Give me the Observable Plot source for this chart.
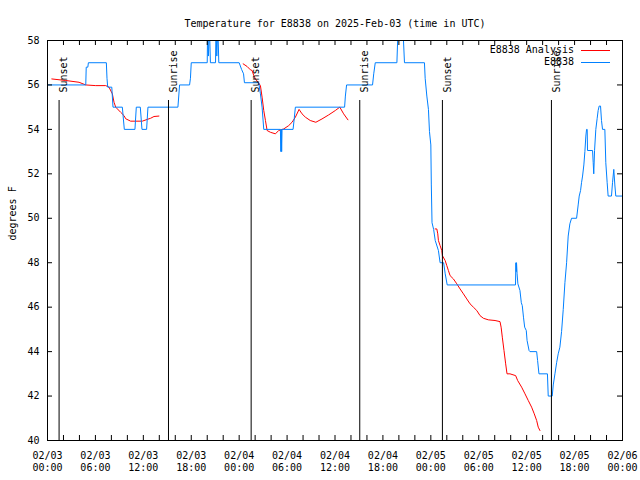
<!DOCTYPE html>
<html>
<head>
<meta charset="utf-8">
<script src="https://cdn.jsdelivr.net/npm/d3@7"></script>
<script src="https://cdn.jsdelivr.net/npm/@observablehq/plot@0.6"></script>
<style>
  body { margin: 0; background: #fff; }
  svg { display: block; }
</style>
</head>
<body>
<div id="chart"></div>
<script>
// ---- text ----
const title = "Temperature for E8838 on 2025-Feb-03 (time in UTC)";
const yLabel = "degrees F";
const seriesNames = ["E8838 Analysis", "E8838"];
const seriesColors = ["#ff0000", "#0080ff"];

// ---- axes (hours since 2025-02-03 00:00 UTC) ----
const xLabelHours = [0, 6, 12, 18, 24, 30, 36, 42, 48, 54, 60, 66, 72];
const xTickLabels = ["02/03\n00:00", "02/03\n06:00", "02/03\n12:00", "02/03\n18:00",
                     "02/04\n00:00", "02/04\n06:00", "02/04\n12:00", "02/04\n18:00",
                     "02/05\n00:00", "02/05\n06:00", "02/05\n12:00", "02/05\n18:00",
                     "02/06\n00:00"];
const xTickHours = [0,2,4,6,8,10,12,14,16,18,20,22,24,26,28,30,32,34,36,38,40,42,44,46,48,50,52,54,56,58,60,62,64,66,68,70,72];
const yTicks = [40, 42, 44, 46, 48, 50, 52, 54, 56, 58];

// ---- sun events ----
const sunHours = [1.45, 15.15, 25.5, 39.1, 49.45, 63.1];
const sunLabels = ["Sunset", "Sunrise", "Sunset", "Sunrise", "Sunset", "Sunrise"];

// ---- E8838 observations [hour, degF] ----
const obsPoints = [
  [0,56],[4.79,56],[4.85,56.8],[5.05,56.8],[5.12,57],[7.37,57],[7.45,56.3],[7.54,55.9],
  [8.05,55.9],[8.2,55],[9.37,55],[9.62,54],[10.95,54],[11.12,55],[11.62,55],[11.83,54],
  [12.41,54],[12.58,55],[16.33,55],[16.54,56],[17.79,56],[17.9,56.3],[18,57],[20,57],
  [20.05,58.6],[20.15,57.3],[20.28,58.6],[20.4,57],[21.04,57],[21.1,58.6],[21.2,57.3],
  [21.33,58.6],[21.45,57],[24.0,57],[24.3,56.7],[24.55,56.5],[24.66,56.1],[26.45,56.1],
  [26.66,55.6],[26.87,55],[27.08,54],[29.16,54],[29.22,53],[29.27,54],[29.32,53],[29.37,54],
  [30.75,54],[30.9,54.5],[31.04,55],[37.2,55],[37.3,55.5],[37.45,56],[40.7,56],[40.85,56.5],
  [41.04,57],[43.75,57],[43.9,58.6],[44.5,58.6],[44.7,57],[47.2,57],[47.29,56.3],[47.5,55.5],
  [47.7,54.9],[47.83,53.9],[48.0,53.3],[48.06,51.5],[48.15,49.8],[48.35,49.5],[48.55,49.0],
  [48.95,48.55],[49.16,48],[49.6,48],[49.8,47.5],[50.05,47],[58.6,47],[58.65,48],[58.7,47.6],
  [58.73,48],[58.8,47.5],[58.9,47.05],[59.16,46.75],[59.33,46.2],[59.45,46.07],[59.6,45.55],
  [59.75,45.1],[59.95,44.95],[60.05,44.5],[60.3,44.05],[60.41,44],[61.25,44],[61.37,43.6],
  [61.54,43],[62.6,43],[62.7,42],[63.2,42],[63.33,42.5],[63.54,43],[63.75,43.5],[63.95,43.9],
  [64.16,44.2],[64.37,44.9],[64.58,45.9],[64.79,47.1],[65.0,48],[65.2,49.2],[65.41,49.75],
  [65.62,50],[66.25,50],[66.45,50.6],[66.58,51],[66.75,51.25],[66.87,51.6],[67.0,51.9],
  [67.16,52.4],[67.29,53],[67.41,53.7],[67.5,54],[67.58,54],[67.62,53.05],[68.25,53.05],
  [68.33,52.5],[68.4,52],[68.5,53.05],[68.66,54],[68.83,54.5],[68.95,54.85],[69.08,55.05],
  [69.25,55.05],[69.37,54.4],[69.5,54],[69.79,54],[69.91,52.5],[70.08,51.6],[70.2,51],
  [70.62,51],[70.75,51.6],[70.91,52.2],[71.04,51.5],[71.16,51],[72,51]
];

// ---- E8838 Analysis [hour, degF], three night-time runs ----
const analysisRun1 = [
  [0.54,56.27],[2.29,56.2],[3.95,56.12],[4.79,56.0],[6.04,55.97],[7.29,55.97],[7.7,55.9],
  [8.12,55.6],[8.33,55.22],[8.54,55.0],[9.16,54.77],[9.58,54.62],[9.79,54.48],[10.41,54.37],
  [11.87,54.37],[12.5,54.45],[12.91,54.5],[13.33,54.58],[13.95,54.6]
];
const analysisRun2 = [
  [24.5,56.95],[25.0,56.83],[25.41,56.68],[25.62,56.65],[25.83,56.42],[26.04,56.27],
  [26.45,56.08],[26.66,55.97],[26.87,55.45],[27.08,54.85],[27.29,54.4],[27.5,53.95],
  [27.91,53.87],[28.54,53.8],[28.95,53.95],[29.58,54.02],[30.2,54.17],[30.62,54.32],
  [31.04,54.55],[31.5,54.9],[31.87,54.7],[32.29,54.55],[32.9,54.4],[33.6,54.32],
  [34.37,54.47],[35.2,54.65],[36.04,54.85],[36.6,55.0],[37.08,54.7],[37.62,54.43]
];
const analysisRun3 = [
  [48.54,49.52],[48.75,49.52],[48.87,49.3],[48.95,49.0],[49.16,48.77],[49.37,48.55],
  [49.45,48.32],[49.79,48.1],[50.0,47.87],[50.2,47.65],[50.41,47.42],[50.83,47.27],
  [51.25,47.05],[51.66,46.82],[52.08,46.6],[52.5,46.37],[52.91,46.15],[53.33,46.0],
  [53.75,45.85],[54.16,45.62],[54.58,45.5],[55.2,45.43],[56.04,45.4],[56.66,45.35],
  [56.8,45.1],[56.95,44.65],[57.16,44.05],[57.37,43.45],[57.54,43.0],[57.91,43.0],
  [58.62,42.92],[58.87,42.7],[59.37,42.4],[59.79,42.1],[60.2,41.8],[60.62,41.5],
  [60.95,41.2],[61.25,40.9],[61.45,40.6],[61.66,40.45]
];

const obs = obsPoints.map(([h, t]) => ({h, t}));
const analysis = [analysisRun1, analysisRun2, analysisRun3]
  .flatMap((run, k) => run.map(([h, t]) => ({h, t, run: k})));

const FONT = "DejaVu Sans Mono";

function legend(index, scales, values, dims) {
  const g = d3.create("svg:g")
    .attr("font-family", FONT).attr("font-size", 10).attr("fill", "black");
  const xr = dims.width - dims.marginRight;
  seriesNames.forEach((name, i) => {
    const y = dims.marginTop + 10 + 12 * i;
    g.append("text").attr("x", xr - 48).attr("y", y).attr("dy", "0.32em")
      .attr("text-anchor", "end").text(name);
    g.append("line").attr("x1", xr - 41).attr("x2", xr - 12)
      .attr("y1", y + 0.5).attr("y2", y + 0.5)
      .attr("stroke", seriesColors[i]).attr("stroke-width", 1);
  });
  return g.node();
}

const chart = Plot.plot({
  width: 640,
  height: 480,
  marginLeft: 47,
  marginRight: 18,
  marginTop: 40,
  marginBottom: 40,
  style: {fontFamily: FONT, fontSize: "10px", color: "black", background: "white"},
  x: {type: "linear", domain: [0, 72], axis: null},
  y: {type: "linear", domain: [40, 58], axis: null},
  marks: [
    Plot.line(analysis, {x: "h", y: "t", z: "run", stroke: seriesColors[0], strokeWidth: 1, clip: true}),
    Plot.line(obs, {x: "h", y: "t", stroke: seriesColors[1], strokeWidth: 1, clip: true}),
    Plot.ruleX(sunHours, {x: d => d, insetTop: 60, stroke: "black", strokeWidth: 1}),
    Plot.text(sunHours, {x: d => d, text: (d, i) => sunLabels[i], frameAnchor: "top", dy: 52, dx: 1,
                         rotate: -90, textAnchor: "start", fill: "black"}),
    Plot.frame({stroke: "black"}),
    Plot.tickX(xTickHours, {x: d => d, insetTop: 395, stroke: "black"}),
    Plot.tickX(xTickHours, {x: d => d, insetBottom: 395, stroke: "black"}),
    Plot.tickY(yTicks, {y: d => d, insetRight: 570, stroke: "black"}),
    Plot.tickY(yTicks, {y: d => d, insetLeft: 570, stroke: "black"}),
    Plot.text(xLabelHours, {x: d => d, text: (d, i) => xTickLabels[i], frameAnchor: "bottom",
                            dy: 30, lineHeight: 1.2, fill: "black"}),
    Plot.text(yTicks, {y: d => d, text: d => String(d), frameAnchor: "left", dx: -8,
                       textAnchor: "end", fill: "black"}),
    Plot.text([title], {text: d => d, frameAnchor: "top", dy: -21, fill: "black"}),
    Plot.text([yLabel], {text: d => d, frameAnchor: "left", dx: -35, rotate: -90, fill: "black"}),
    legend
  ]
});

document.getElementById("chart").appendChild(chart);
</script>
</body>
</html>
